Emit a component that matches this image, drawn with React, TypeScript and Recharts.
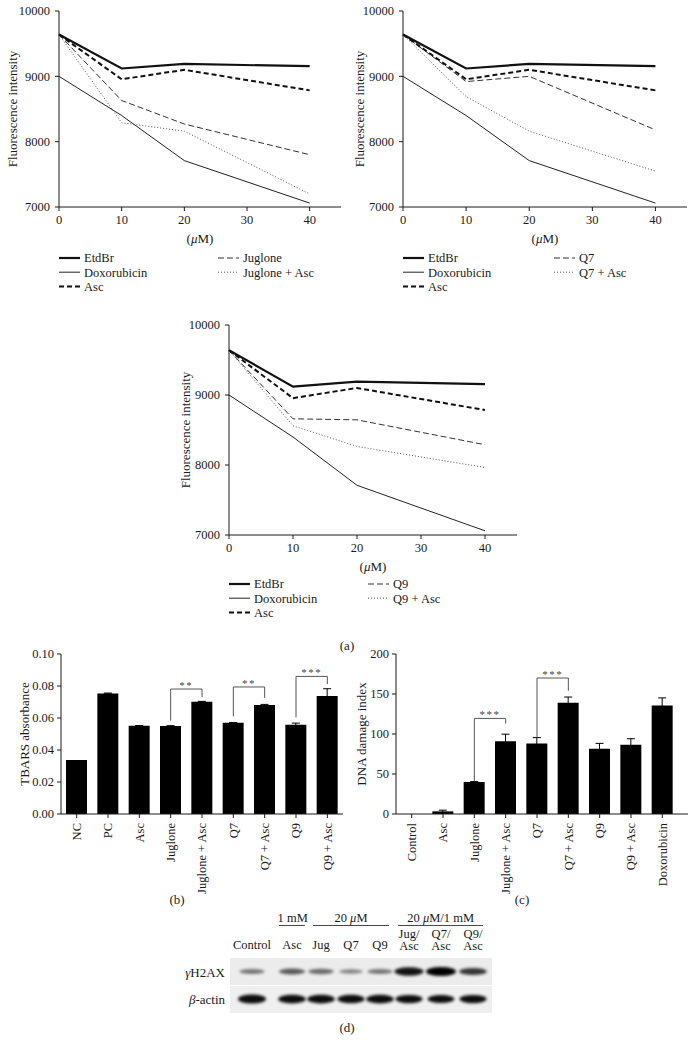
import React from 'react';
import { LineChart, Line, XAxis, YAxis, BarChart, Bar, ErrorBar, ReferenceLine } from 'recharts';

const FONT = '"Liberation Serif", "Times New Roman", serif';
const INK = '#1a1a1a';

// (a) EtdBr displacement: fluorescence vs concentration (uM)
const doses = [0, 10, 20, 40];
const doseTicks = [0, 10, 20, 30, 40];
const fluoTicks = [7000, 8000, 9000, 10000];
const etdbr = [9640, 9120, 9190, 9155];
const doxorubicin = [9000, 8400, 7710, 7060];
const asc = [9640, 8955, 9100, 8785];
const juglone = [9640, 8630, 8270, 7800];
const jugloneAsc = [9640, 8290, 8160, 7200];
const q7 = [9640, 8920, 9000, 8180];
const q7Asc = [9640, 8690, 8160, 7550];
const q9 = [9640, 8660, 8645, 8290];
const q9Asc = [9640, 8560, 8265, 7965];

// (b) TBARS
const tbarsGroups = ['NC', 'PC', 'Asc', 'Juglone', 'Juglone + Asc', 'Q7', 'Q7 + Asc', 'Q9', 'Q9 + Asc'];
const tbarsMean = [0.0338, 0.0753, 0.0551, 0.055, 0.0702, 0.0571, 0.0681, 0.0558, 0.0737];
const tbarsSem = [0, 0.0003, 0.0002, 0.0002, 0.0002, 0.0001, 0.0004, 0.001, 0.0046];
const tbarsTicks = [0, 0.02, 0.04, 0.06, 0.08, 0.1];
const tbarsSig = [
  { from: 'Juglone', to: 'Juglone + Asc', top: 0.0781, footFrom: 0.0583, footTo: 0.0731, stars: '**' },
  { from: 'Q7', to: 'Q7 + Asc', top: 0.0794, footFrom: 0.061, footTo: 0.0725, stars: '**' },
  { from: 'Q9', to: 'Q9 + Asc', top: 0.086, footFrom: 0.0604, footTo: 0.0812, stars: '***' },
];

// (c) comet assay
const cometGroups = ['Control', 'Asc', 'Juglone', 'Juglone + Asc', 'Q7', 'Q7 + Asc', 'Q9', 'Q9 + Asc', 'Doxorubicin'];
const cometMean = [0, 3.3, 40, 91, 88, 139, 81.5, 86.5, 135.5];
const cometSem = [0, 1.5, 0.5, 8.8, 7.5, 7.2, 6.8, 7.6, 9.6];
const cometTicks = [0, 50, 100, 150, 200];
const cometSig = [
  { from: 'Juglone', to: 'Juglone + Asc', top: 119.5, footFrom: 41, footTo: 113, stars: '***' },
  { from: 'Q7', to: 'Q7 + Asc', top: 170, footFrom: 95.5, footTo: 154, stars: '***' },
];

// (d) western blot lanes and relative band signal
const blotLanes = ['Control', 'Asc', 'Jug', 'Q7', 'Q9', 'Jug/Asc', 'Q7/Asc', 'Q9/Asc'];
const h2axSignal = [0.35, 0.5, 0.4, 0.25, 0.35, 0.9, 1, 0.7];
const actinSignal = [1, 0.95, 0.95, 0.9, 0.95, 0.85, 0.8, 0.85];

const styles: Record<string, any> = {
  etdbr: { stroke: '#111', strokeWidth: 2.2 },
  doxo: { stroke: '#222', strokeWidth: 1 },
  asc: { stroke: '#111', strokeWidth: 2, strokeDasharray: '5 3' },
  cmp: { stroke: '#333', strokeWidth: 1, strokeDasharray: '6 3' },
  cmpAsc: { stroke: '#555', strokeWidth: 1, strokeDasharray: '1 2' },
};

const TICK_FS = 12.5;
const TITLE_FS = 13;
const LEGEND_FS = 12.5;
const tickStyle = { fill: INK, fontSize: TICK_FS, fontFamily: FONT };

const muLabel = (props: any) => {
  const vb = props.viewBox || { x: 0, y: 0, width: 0 };
  return (
    <text x={vb.x + vb.width / 2} y={vb.y + 35.5} textAnchor="middle" fill={INK} fontSize={TITLE_FS} fontFamily={FONT}>
      (<tspan fontStyle="italic">μ</tspan>M)
    </text>
  );
};

const FluoPanel = ({ left, top, width, plotH, mLeft, mRight, yLabelOffset, cmp, cmpAsc, name }: any) => {
  const data = doses.map((d, i) => ({
    dose: d, etdbr: etdbr[i], doxo: doxorubicin[i], asc: asc[i], cmp: cmp[i], cmpAsc: cmpAsc[i],
  }));
  return (
    <div style={{ position: 'absolute', left, top }}>
      <LineChart width={width} height={11 + plotH + 40} data={data} margin={{ top: 11, right: mRight, left: mLeft, bottom: 0 }}>
        <XAxis type="number" dataKey="dose" domain={[0, 45]} ticks={doseTicks} height={40} tickSize={4} tickMargin={4}
          stroke={INK} tick={tickStyle} label={muLabel} />
        <YAxis type="number" domain={[7000, 10000]} ticks={fluoTicks} width={50} tickSize={4} tickMargin={5}
          stroke={INK} tick={tickStyle}
          label={{ value: 'Fluorescence intensity', angle: -90, position: 'insideLeft', offset: yLabelOffset,
            style: { textAnchor: 'middle', fill: INK, fontSize: TITLE_FS, fontFamily: FONT } }} />
        <Line dataKey="doxo" name="Doxorubicin" dot={false} isAnimationActive={false} {...styles.doxo} />
        <Line dataKey="cmpAsc" name={name + ' + Asc'} dot={false} isAnimationActive={false} {...styles.cmpAsc} />
        <Line dataKey="cmp" name={name} dot={false} isAnimationActive={false} {...styles.cmp} />
        <Line dataKey="asc" name="Asc" dot={false} isAnimationActive={false} {...styles.asc} />
        <Line dataKey="etdbr" name="EtdBr" dot={false} isAnimationActive={false} {...styles.etdbr} />
      </LineChart>
    </div>
  );
};

const RotTick = (props: any) => {
  const { x, y, payload } = props;
  return (
    <text x={x} y={y} transform={`rotate(-90 ${x} ${y})`} textAnchor="end" dy="0.35em" fill={INK} fontSize={TICK_FS} fontFamily={FONT}>
      {payload.value}
    </text>
  );
};

const BarPanel = ({ left, width, groups, mean, sem, ticks, yLabel, sig, mLeft, mRight, yWidth, yLabelOffset, padRight, fmt }: any) => {
  const data = groups.map((g: string, i: number) => ({ group: g, value: mean[i], sem: sem[i] }));
  const top = ticks[ticks.length - 1];
  return (
    <div style={{ position: 'absolute', left, top: 640 }}>
      <BarChart width={width} height={261} data={data} barSize={21} margin={{ top: 14, right: mRight, left: mLeft, bottom: 2 }}>
        <XAxis dataKey="group" interval={0} height={85} tickSize={4} tickMargin={5} stroke={INK} tick={<RotTick />}
          padding={{ left: 0, right: padRight }} />
        <YAxis type="number" domain={[0, top]} ticks={ticks} allowDataOverflow width={yWidth} tickSize={4} tickMargin={3}
          stroke={INK} tick={tickStyle} tickFormatter={fmt}
          label={{ value: yLabel, angle: -90, position: 'insideLeft', offset: yLabelOffset,
            style: { textAnchor: 'middle', fill: INK, fontSize: TITLE_FS, fontFamily: FONT } }} />
        <Bar dataKey="value" fill="#000" isAnimationActive={false}>
          <ErrorBar dataKey="sem" width={4} stroke="#000" strokeWidth={1} direction="y" />
        </Bar>
        {sig.map((s: any) => [
          <ReferenceLine key={s.from + 'a'} ifOverflow="visible" stroke="#555" strokeWidth={1}
            segment={[{ x: s.from, y: s.footFrom }, { x: s.from, y: s.top }]} />,
          <ReferenceLine key={s.from + 'b'} ifOverflow="visible" stroke="#555" strokeWidth={1}
            segment={[{ x: s.to, y: s.footTo }, { x: s.to, y: s.top }]} />,
          <ReferenceLine key={s.from + 'c'} ifOverflow="visible" stroke="#555" strokeWidth={1}
            segment={[{ x: s.from, y: s.top }, { x: s.to, y: s.top }]}
            label={{ value: s.stars, position: 'top', offset: 0, fill: '#444', fontSize: 11, fontFamily: FONT, letterSpacing: 1.5 }} />,
        ])}
      </BarChart>
    </div>
  );
};

const LegendBlock = ({ x1, x2, y, name }: any) => {
  const rows = [
    { x: x1, y, s: styles.etdbr, t: 'EtdBr' },
    { x: x1, y: y + 14.2, s: styles.doxo, t: 'Doxorubicin' },
    { x: x1, y: y + 28.4, s: styles.asc, t: 'Asc' },
    { x: x2, y, s: styles.cmp, t: name },
    { x: x2, y: y + 14.2, s: styles.cmpAsc, t: name + ' + Asc' },
  ];
  return (
    <g>
      {rows.map((r) => (
        <g key={r.t}>
          <line x1={r.x} x2={r.x + 21} y1={r.y} y2={r.y} {...r.s} />
          <text x={r.x + 25} y={r.y} dy="0.35em" fill={INK} fontSize={LEGEND_FS} fontFamily={FONT}>{r.t}</text>
        </g>
      ))}
    </g>
  );
};

const Blot = () => {
  const laneX = [252, 292, 321, 351, 380, 409, 441, 473];
  const txt = { fill: INK, fontSize: TICK_FS, fontFamily: FONT, textAnchor: 'middle' as const };
  return (
    <g>
      <defs>
        <filter id="bandBlur" x="-50%" y="-100%" width="200%" height="300%">
          <feGaussianBlur stdDeviation="1.4" />
        </filter>
      </defs>
      <text x={292.7} y={922} {...txt}>1 mM</text>
      <text x={351} y={922} {...txt}>20 <tspan fontStyle="italic">μ</tspan>M</text>
      <text x={440.7} y={922} {...txt}>20 <tspan fontStyle="italic">μ</tspan>M/1 mM</text>
      <line x1={279} x2={305} y1={925.5} y2={925.5} stroke={INK} strokeWidth={0.8} />
      <line x1={313} x2={389} y1={925.5} y2={925.5} stroke={INK} strokeWidth={0.8} />
      <line x1={398} x2={483} y1={925.5} y2={925.5} stroke={INK} strokeWidth={0.8} />
      {blotLanes.map((lane, i) => {
        const parts = lane.split('/');
        if (parts.length === 1) return <text key={lane} x={laneX[i]} y={949} {...txt}>{lane}</text>;
        return (
          <g key={lane}>
            <text x={laneX[i]} y={937.5} {...txt}>{parts[0]}/</text>
            <text x={laneX[i]} y={950} {...txt}>{parts[1]}</text>
          </g>
        );
      })}
      <rect x={230} y={958} width={262} height={27} fill="#ececec" />
      <rect x={230} y={986} width={262} height={27} fill="#efefef" />
      {h2axSignal.map((v, i) => (
        <ellipse key={'h' + i} cx={laneX[i]} cy={971.5} rx={11 + 4 * v} ry={1.5 + 3 * v} fill="#000" opacity={0.25 + 0.75 * v} filter="url(#bandBlur)" />
      ))}
      {actinSignal.map((v, i) => (
        <ellipse key={'a' + i} cx={laneX[i]} cy={999} rx={11 + 3 * v} ry={2 + 2.5 * v} fill="#000" opacity={0.95} filter="url(#bandBlur)" />
      ))}
      <text x={225} y={972} dy="0.35em" fill={INK} fontSize={TITLE_FS} fontFamily={FONT} textAnchor="end">
        <tspan fontStyle="italic">γ</tspan>H2AX
      </text>
      <text x={225} y={999} dy="0.35em" fill={INK} fontSize={TITLE_FS} fontFamily={FONT} textAnchor="end">
        <tspan fontStyle="italic">β</tspan>-actin
      </text>
    </g>
  );
};

const App = () => {
  const panel = { fill: INK, fontSize: TITLE_FS, fontFamily: FONT, textAnchor: 'middle' as const };
  return (
    <div style={{ position: 'absolute', left: 0, top: 0, width: 694, height: 1041, background: '#fff', overflow: 'hidden' }}>
      <FluoPanel left={0} top={0} width={347} plotH={196} mLeft={9} mRight={6} yLabelOffset={3} cmp={juglone} cmpAsc={jugloneAsc} name="Juglone" />
      <FluoPanel left={347} top={0} width={347} plotH={196} mLeft={6} mRight={7} yLabelOffset={6} cmp={q7} cmpAsc={q7Asc} name="Q7" />
      <FluoPanel left={170} top={314} width={353} plotH={210} mLeft={9} mRight={6} yLabelOffset={6} cmp={q9} cmpAsc={q9Asc} name="Q9" />
      <BarPanel left={0} width={347} groups={tbarsGroups} mean={tbarsMean} sem={tbarsSem} ticks={tbarsTicks}
        yLabel="TBARS absorbance" sig={tbarsSig} mLeft={11} mRight={4} yWidth={50} yLabelOffset={13} padRight={0}
        fmt={(v: number) => v.toFixed(2)} />
      <BarPanel left={347} width={347} groups={cometGroups} mean={cometMean} sem={cometSem} ticks={cometTicks}
        yLabel="DNA damage index" sig={cometSig} mLeft={4} mRight={6} yWidth={45} yLabelOffset={10} padRight={10}
        fmt={(v: number) => String(v)} />
      <svg width={694} height={1041} style={{ position: 'absolute', left: 0, top: 0, pointerEvents: 'none' }}>
        <LegendBlock x1={59} x2={218} y={258} name="Juglone" />
        <LegendBlock x1={403} x2={554} y={258} name="Q7" />
        <LegendBlock x1={229} x2={368} y={584} name="Q9" />
        <text x={347} y={645} dy="0.35em" {...panel}>(a)</text>
        <text x={177} y={899} dy="0.35em" {...panel}>(b)</text>
        <text x={522} y={899} dy="0.35em" {...panel}>(c)</text>
        <Blot />
        <text x={347} y={1027} dy="0.35em" {...panel}>(d)</text>
      </svg>
    </div>
  );
};

export default App;
